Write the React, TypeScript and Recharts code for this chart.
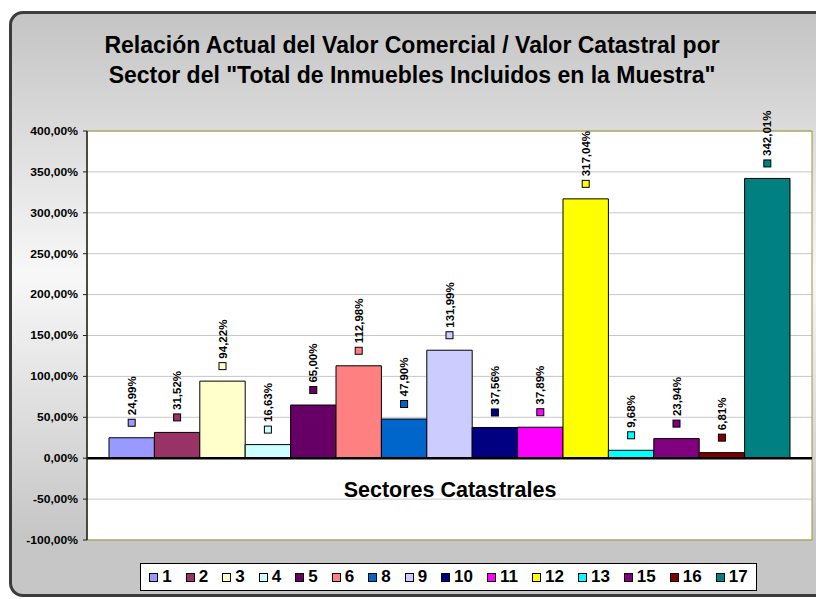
import { Bar, BarChart, CartesianGrid, LabelList, ReferenceArea, ReferenceLine, XAxis, YAxis } from "recharts";

const sectors = ["1", "2", "3", "4", "5", "6", "8", "9", "10", "11", "12", "13", "15", "16", "17"];
const ratios = [24.99, 31.52, 94.22, 16.63, 65.0, 112.98, 47.9, 131.99, 37.56, 37.89, 317.04, 9.68, 23.94, 6.81, 342.01];
const colors = [
  "#9999FF", "#993366", "#FFFFCC", "#CCFFFF", "#660066", "#FF8080", "#0066CC", "#CCCCFF",
  "#000080", "#FF00FF", "#FFFF00", "#00FFFF", "#800080", "#800000", "#008080",
];
const yTicks = [-100, -50, 0, 50, 100, 150, 200, 250, 300, 350, 400];

const titleLines = [
  "Relación Actual del Valor Comercial / Valor Catastral por",
  'Sector del "Total de Inmuebles Incluidos en la Muestra"',
];
const xTitle = "Sectores Catastrales";

const row: Record<string, string | number> = { name: "Sectores" };
sectors.forEach((s, i) => {
  row["s" + s] = ratios[i];
});
const data = [row];

const FONT = "'Liberation Sans', Arial, sans-serif";

const fmt = (v: number) => v.toFixed(2).replace(".", ",") + "%";

function YTick({ x, y, payload }: any) {
  return (
    <text
      x={0}
      y={0}
      transform={`translate(${x},${y}) scale(1.1,1)`}
      textAnchor="end"
      dy="0.35em"
      fontSize={11}
      fontWeight="bold"
      fontFamily={FONT}
      fill="#000"
    >
      {fmt(payload.value)}
    </text>
  );
}

function makeLabel(color: string) {
  return (p: any) => {
    const cx = p.x + p.width / 2;
    const top = p.y;
    return (
      <g>
        <rect x={cx - 3.5} y={top - 18.5} width={7} height={7} fill={color} stroke="#000" strokeWidth={1} />
        <text
          x={0}
          y={0}
          transform={`translate(${cx},${top - 22.5}) rotate(-90)`}
          textAnchor="start"
          dy="0.35em"
          fontSize={11.5}
          fontWeight="bold"
          fontFamily={FONT}
          fill="#000"
        >
          {fmt(Number(p.value))}
        </text>
      </g>
    );
  };
}

export default function App() {
  return (
    <div style={{ position: "absolute", left: 0, top: 0, width: 816, height: 599, overflow: "hidden", fontFamily: FONT }}>
      <div
        style={{
          position: "absolute",
          left: 9,
          top: 11,
          width: 830,
          height: 586,
          boxSizing: "border-box",
          border: "3px solid #3c3c3c",
          borderRadius: 14,
          background: "linear-gradient(to bottom, #c4c4c4 0%, #f8f8f8 45%, #c6c6c6 90%)",
        }}
      />
      <div
        style={{
          position: "absolute",
          left: 0,
          top: 30,
          width: 824,
          textAlign: "center",
          fontSize: 23,
          fontWeight: "bold",
          lineHeight: "30px",
          color: "#000",
        }}
      >
        {titleLines.map((t) => (
          <div key={t}>{t}</div>
        ))}
      </div>
      <div style={{ position: "absolute", left: 0, top: 0 }}>
        <BarChart
          width={816}
          height={599}
          data={data}
          margin={{ top: 131, right: 4, bottom: 59, left: 8 }}
          barSize={45.4}
          barGap={0}
        >
          <CartesianGrid vertical={false} stroke="#c8c8c8" fill="#ffffff" />
          <XAxis dataKey="name" hide />
          <YAxis
            width={79}
            domain={[-100, 400]}
            ticks={yTicks}
            interval={0}
            allowDataOverflow
            tickSize={4}
            tickMargin={5}
            tick={<YTick />}
            axisLine={{ stroke: "#222", strokeWidth: 1.5 }}
            tickLine={{ stroke: "#222" }}
          />
          {sectors.map((s, i) => (
            <Bar key={s} dataKey={"s" + s} name={s} fill={colors[i]} stroke="#000" strokeWidth={1} isAnimationActive={false}>
              <LabelList dataKey={"s" + s} content={makeLabel(colors[i])} />
            </Bar>
          ))}
          <ReferenceArea y1={-100} y2={400} fill="none" stroke="#999933" strokeWidth={1} />
          <ReferenceLine y={0} stroke="#000" strokeWidth={2.5} />
        </BarChart>
      </div>
      <div
        style={{
          position: "absolute",
          left: 250,
          top: 477,
          width: 400,
          textAlign: "center",
          fontSize: 21.5,
          fontWeight: "bold",
          lineHeight: "26px",
          color: "#000",
        }}
      >
        {xTitle}
      </div>
      <div
        style={{
          position: "absolute",
          left: 140,
          top: 563,
          width: 617,
          height: 28,
          boxSizing: "border-box",
          background: "#fff",
          border: "1px solid #000",
        }}
      >
        <div
          style={{
            position: "absolute",
            inset: 0,
            display: "flex",
            alignItems: "center",
            justifyContent: "center",
          }}
        >
          {sectors.map((s, i) => (
            <span key={s} style={{ display: "flex", alignItems: "center", marginRight: i === sectors.length - 1 ? 0 : 14 }}>
              <span
                style={{
                  display: "inline-block",
                  width: 9,
                  height: 9,
                  boxSizing: "border-box",
                  border: "1px solid #000",
                  background: colors[i],
                  marginRight: 4,
                }}
              />
              <span style={{ fontSize: 17, fontWeight: "bold", lineHeight: "18px", color: "#000" }}>{s}</span>
            </span>
          ))}
        </div>
      </div>
    </div>
  );
}
